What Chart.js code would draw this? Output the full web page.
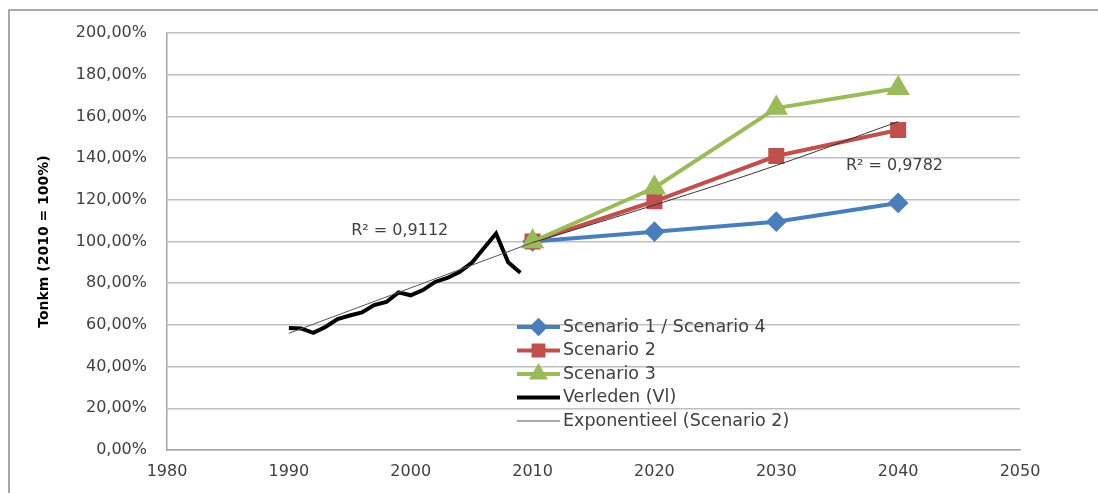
<!DOCTYPE html>
<html>
<head>
<meta charset="utf-8">
<script src="https://cdn.jsdelivr.net/npm/chart.js@4"></script>
<style>
  html, body { margin: 0; padding: 0; background: #fff; overflow: hidden; }
</style>
</head>
<body>
<canvas id="chart" width="1098" height="493"></canvas>
<script>
// scenario years and values (% of 2010)
const scenarioYears = [2010, 2020, 2030, 2040];
const scenario1 = [100, 104.7, 109.5, 118.5];
const scenario2 = [100, 119.3, 141, 153.5];
const scenario3 = [100, 125.8, 164, 173.5];
const expoTrend = [99.5, 117.5, 136.5, 157.5];

// past data (Vlaanderen)
const pastYears = [1990, 1991, 1992, 1993, 1994, 1995, 1996, 1997, 1998, 1999,
                   2000, 2001, 2002, 2003, 2004, 2005, 2006, 2007, 2008, 2009];
const pastValues = [58.5, 58.3, 56.2, 59, 62.8, 64.5, 66, 69.5, 71, 75.6,
                    74.2, 76.7, 80.6, 82.5, 85.4, 89.7, 96.8, 103.8, 90, 85];
const pastTrendYears = [1990, 2010];
const pastTrend = [56, 99.5];

const xTicks = [1980, 1990, 2000, 2010, 2020, 2030, 2040, 2050];
const r2Labels = [
    { text: "R² = 0,9112", x: 1999.1, y: 105 },
    { text: "R² = 0,9782", x: 2039.7, y: 136.5 }
];

const pts = (xs, ys) => xs.map((x, i) => ({ x: x, y: ys[i] }));

const blue = "#4a7ebb", red = "#c0504d", green = "#9bbb59";
const font = "'DejaVu Sans', sans-serif";
const textCol = "#404040";

const legendItems = [
    { label: "Scenario 1 / Scenario 4", color: blue, width: 4, marker: "rectRot", r: 6.5 },
    { label: "Scenario 2", color: red, width: 4, marker: "rect", r: 7 },
    { label: "Scenario 3", color: green, width: 4, marker: "triangle", r: 7 },
    { label: "Verleden (Vl)", color: "#000", width: 4, marker: null },
    { label: "Exponentieel (Scenario 2)", color: "#555", width: 1, marker: null }
];

const extras = {
    id: "extras",
    beforeDraw(chart) {
        // outer frame of the chart object (only top and left edge visible)
        const ctx = chart.ctx;
        ctx.save();
        ctx.strokeStyle = "#8c8c8c";
        ctx.lineWidth = 1.5;
        ctx.beginPath();
        ctx.moveTo(9, 493);
        ctx.lineTo(9, 10);
        ctx.lineTo(1098, 10);
        ctx.stroke();
        ctx.restore();
    },
    afterDraw(chart) {
        const ctx = chart.ctx;
        const xs = chart.scales.x, ys = chart.scales.y;
        ctx.save();
        ctx.font = "16px " + font;
        ctx.fillStyle = textCol;
        ctx.textAlign = "center";
        ctx.textBaseline = "middle";
        r2Labels.forEach(l => ctx.fillText(l.text, xs.getPixelForValue(l.x), ys.getPixelForValue(l.y)));

        // legend inside the plot
        let y = 327;
        ctx.font = "17.5px " + font;
        ctx.textAlign = "left";
        legendItems.forEach(it => {
            ctx.strokeStyle = it.color;
            ctx.lineWidth = it.width;
            ctx.beginPath();
            ctx.moveTo(517, y);
            ctx.lineTo(560, y);
            ctx.stroke();
            if (it.marker) {
                Chart.helpers.drawPoint(ctx, {
                    pointStyle: it.marker, radius: it.r, borderWidth: 1, rotation: 0
                }, 538.5, y);
                ctx.fillStyle = it.color;
                ctx.fill();
            }
            ctx.fillStyle = textCol;
            ctx.fillText(it.label, 563, y);
            y += 23.5;
        });
        ctx.restore();
    }
};

new Chart(document.getElementById("chart"), {
    type: "line",
    data: {
        datasets: [
            { label: "Exponentieel (Scenario 2)", data: pts(scenarioYears, expoTrend), borderColor: "#333",
              borderWidth: 1, pointRadius: 0, tension: 0.4, order: 0 },
            { label: "trend verleden", data: pts(pastTrendYears, pastTrend), borderColor: "#555",
              borderWidth: 1, pointRadius: 0, order: 0 },
            { label: "Scenario 3", data: pts(scenarioYears, scenario3), borderColor: green, backgroundColor: green,
              borderWidth: 4, pointStyle: "triangle", pointRadius: 9.5, order: 1 },
            { label: "Scenario 2", data: pts(scenarioYears, scenario2), borderColor: red, backgroundColor: red,
              borderWidth: 4, pointStyle: "rect", pointRadius: 8.5, order: 2 },
            { label: "Scenario 1 / Scenario 4", data: pts(scenarioYears, scenario1), borderColor: blue, backgroundColor: blue,
              borderWidth: 4, pointStyle: "rectRot", pointRadius: 7.5, order: 3 },
            { label: "Verleden (Vl)", data: pts(pastYears, pastValues), borderColor: "#000",
              borderWidth: 4, pointRadius: 0, order: 4 }
        ]
    },
    options: {
        responsive: false,
        animation: false,
        layout: { padding: { left: 0, top: 33, right: 78, bottom: 0 } },
        plugins: { legend: { display: false }, tooltip: { enabled: false } },
        scales: {
            x: {
                type: "linear", min: 1980, max: 2050,
                afterBuildTicks: s => { s.ticks = xTicks.map(v => ({ value: v })); },
                afterFit: s => { s.height = 43; },
                grid: { display: false, drawTicks: false },
                border: { color: "#a6a6a6", width: 1.5 },
                ticks: { color: textCol, font: { size: 16, family: font }, padding: 12,
                         callback: v => String(v) }
            },
            y: {
                min: 0, max: 200,
                afterFit: s => { s.width = 167; },
                ticks: { stepSize: 20, color: textCol, font: { size: 16, family: font }, padding: 20,
                         callback: v => v.toFixed(2).replace(".", ",") + "%" },
                grid: { color: "#bfbfbf", lineWidth: 1.5, drawTicks: false },
                border: { color: "#a6a6a6", width: 1.5 },
                title: { display: true, text: "Tonkm (2010 = 100%)", color: "#000",
                         font: { size: 14, weight: "bold", family: font }, padding: { top: 36, bottom: 0 } }
            }
        }
    },
    plugins: [extras]
});
</script>
</body>
</html>
